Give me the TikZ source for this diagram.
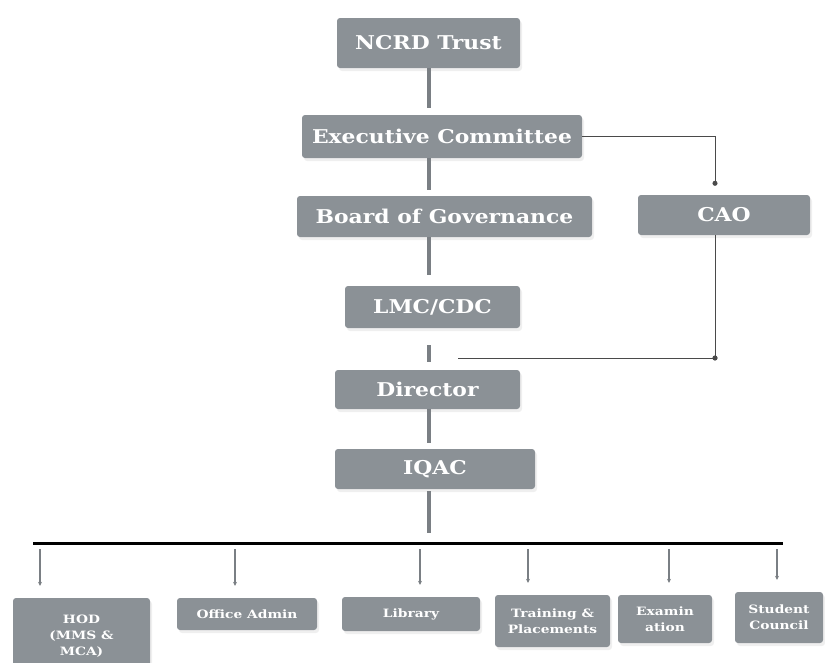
\documentclass[tikz,border=0pt]{standalone}
\usepackage{fontspec}
\newfontfamily\boxfont[FakeStretch=1.15]{DejaVu Serif}
\newfontfamily\smallboxfont[FakeStretch=1.2]{DejaVu Serif}
\definecolor{boxcolor}{HTML}{8B9196}
\definecolor{barcolor}{HTML}{7A7F84}
\definecolor{linecolor}{HTML}{4A4A4A}
\usetikzlibrary{arrows.meta,shadows}

\begin{document}
\begin{tikzpicture}[x=1pt, y=-1pt]

    \tikzset{%
        unit/.style={%
                fill=boxcolor, rounded corners=3pt, text=white, align=center, inner sep=0pt,
                font=\boxfont\bfseries\fontsize{19}{22}\selectfont,
                drop shadow={fill=black!12, shadow xshift=2pt, shadow yshift=-3pt}
            },
        subunit/.style={unit, font=\smallboxfont\bfseries\fontsize{11.5}{16}\selectfont},
        bar/.style={draw=barcolor, line width=4pt},
        link/.style={draw=linecolor, line width=1pt},
        drop/.style={draw=barcolor, line width=1.2pt, -{Stealth[length=4pt, width=4pt]}},
        bus/.style={draw=black, line width=3pt}
    }

    \useasboundingbox (0, 0) rectangle (825, 662);

    \node [unit, minimum width=183pt, minimum height=50pt] (ncrd) at (428.5, 43) {NCRD Trust};
    \node [unit, minimum width=280pt, minimum height=43pt] (exec) at (442, 136.5) {Executive Committee};
    \node [unit, minimum width=295pt, minimum height=41pt] (board) at (444.5, 216.5) {Board of Governance};
    \node [unit, minimum width=172pt, minimum height=40pt] (cao) at (724, 215) {CAO};
    \node [unit, minimum width=175pt, minimum height=42pt] (lmc) at (432.5, 307) {LMC/CDC};
    \node [unit, minimum width=185pt, minimum height=39pt] (director) at (427.5, 389.5) {Director};
    \node [unit, minimum width=200pt, minimum height=40pt] (iqac) at (435, 469) {IQAC};

    \node [subunit, minimum width=137pt, minimum height=76pt] (hod) at (81.5, 636) {HOD\\(MMS \&\\MCA)};
    \node [subunit, minimum width=140pt, minimum height=32pt] (offadmin) at (247, 614) {Office Admin};
    \node [subunit, minimum width=138pt, minimum height=34pt] (library) at (411, 614) {Library};
    \node [subunit, minimum width=115pt, minimum height=52pt] (training) at (552.5, 621) {Training \&\\Placements};
    \node [subunit, minimum width=94pt, minimum height=48pt] (exam) at (665, 619) {Examin\\ation};
    \node [subunit, minimum width=88pt, minimum height=51pt] (council) at (779, 617.5) {Student\\Council};

    \coordinate (join) at (458, 358);
    \coordinate (busL) at (33, 543);
    \coordinate (busR) at (783, 543);

    \draw [bar, shorten >=7pt] (ncrd.south) -- (ncrd.south |- exec.north);
    \draw [bar, shorten >=6pt] (ncrd |- exec.south) -- (ncrd |- board.north);
    \draw [bar, shorten >=11pt] (ncrd |- board.south) -- (ncrd |- lmc.north);
    \draw [bar, shorten <=17pt, shorten >=8pt] (ncrd |- lmc.south) -- (ncrd |- director.north);
    \draw [bar, shorten >=6pt] (ncrd |- director.south) -- (ncrd |- iqac.north);
    \draw [bar, shorten <=2pt, shorten >=10pt] (ncrd |- iqac.south) -- (ncrd |- busL);

    \draw [link, -{Circle[length=5pt]}, shorten >=9pt] (exec.east) -| ([xshift=-9pt]cao.north);
    \draw [link] ([xshift=-9pt]cao.south) -- ([xshift=-9pt]cao.south |- join) -- (join);
    \fill [linecolor] ([xshift=-9pt]cao.south |- join) circle (2.6pt);

    \draw [bus] (busL) -- (busR);
    \foreach \x/\target in {40/hod, 235/offadmin, 420/library, 528/training, 669/exam, 777/council} {%
            \coordinate (tap) at (\x, 543);
            \draw [drop, shorten <=6pt, shorten >=12pt] (tap) -- (tap |- \target.north);
        }

\end{tikzpicture}
\end{document}
